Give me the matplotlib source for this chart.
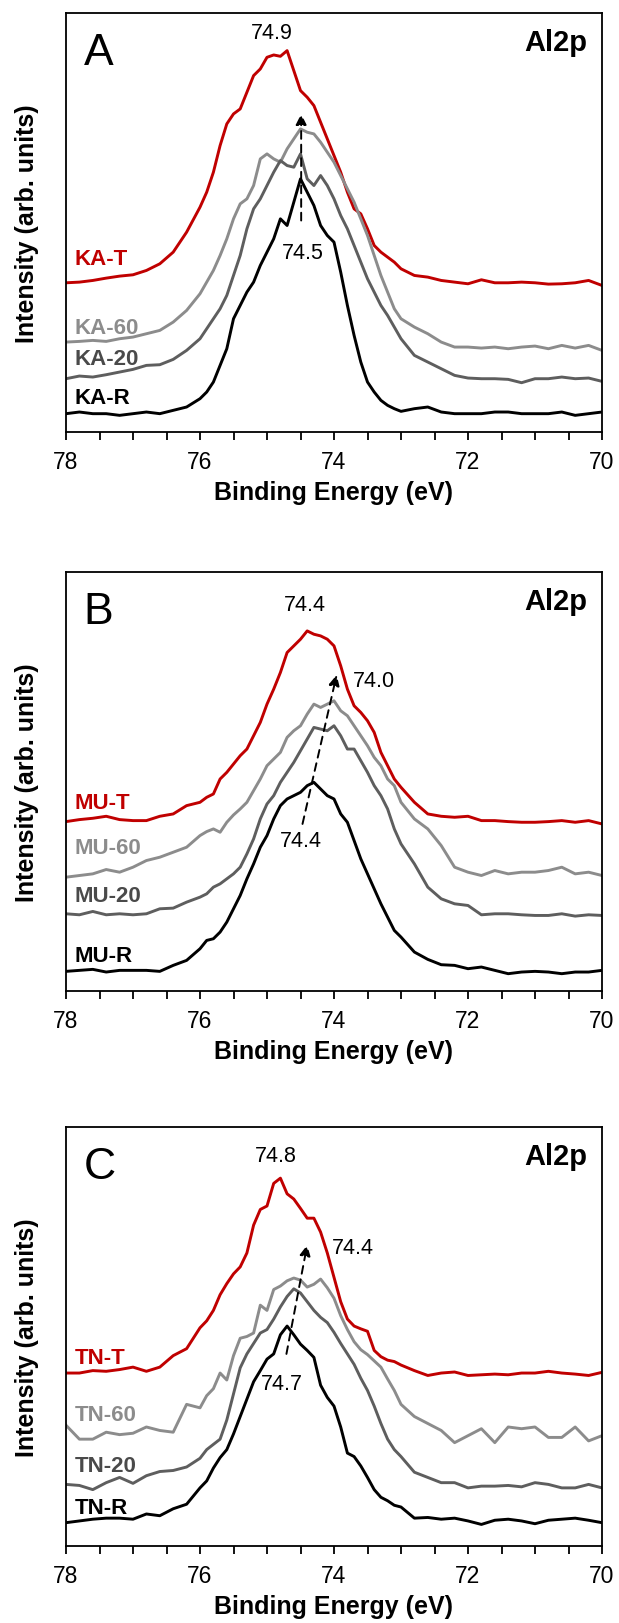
import numpy as np
import matplotlib
matplotlib.use('Agg')
import matplotlib.pyplot as plt
from matplotlib.ticker import MultipleLocator
import matplotlib.transforms as mtransforms

plt.rcParams['font.family'] = ['Liberation Sans', 'DejaVu Sans']

# binding energy grid (eV): coarse on the tails, finer over the peak
energies = np.concatenate([np.round(np.arange(78.0, 76.1, -0.2), 1),
                           np.round(np.arange(76.0, 72.95, -0.1), 1),
                           np.round(np.arange(72.8, 69.95, -0.2), 1)])

# panel A - KA samples (arb. units)
ka_t = [448, 450, 455, 462, 468, 472, 485, 505, 540, 600,
        675, 720, 780, 860, 925, 955, 970, 1020, 1070, 1090, 1125, 1132, 1128, 1145, 1085, 1025,
        1005, 980, 930, 880, 830, 780, 720, 670, 655, 610, 560, 540, 525, 510, 490,
        470, 465, 455, 450, 445, 457, 448, 448, 450, 448, 444, 445, 448, 455, 440]
ka_60 = [270, 272, 275, 272, 280, 285, 295, 305, 330, 365,
         415, 450, 485, 530, 580, 640, 685, 700, 740, 820, 835, 820, 810, 850, 880, 910,
         900, 895, 870, 840, 810, 770, 730, 690, 640, 590, 530, 470, 420, 370, 340,
         315, 295, 270, 255, 255, 252, 255, 250, 255, 258, 250, 260, 252, 260, 245]
ka_20 = [160, 168, 165, 172, 180, 188, 200, 202, 218, 245,
         280, 310, 340, 370, 410, 470, 530, 610, 670, 700, 740, 780, 815, 800, 795, 835,
         760, 740, 770, 740, 700, 650, 610, 560, 510, 460, 420, 380, 350, 315, 280,
         230, 210, 190, 170, 162, 160, 160, 158, 148, 160, 160, 165, 160, 162, 152]
ka_r = [55, 60, 55, 55, 50, 55, 60, 55, 65, 75,
        100, 120, 150, 200, 250, 340, 380, 420, 450, 500, 540, 580, 640, 620, 690, 760,
        720, 680, 620, 590, 570, 480, 380, 290, 210, 150, 120, 95, 80, 70, 62,
        70, 75, 60, 55, 55, 55, 60, 60, 55, 55, 55, 60, 50, 55, 60]

# panel B - MU samples
mu_t = [509, 515, 519, 525, 515, 512, 512, 525, 532, 557,
        567, 582, 592, 637, 657, 682, 707, 727, 767, 807, 862, 907, 957, 1017, 1037, 1057,
        1082, 1072, 1067, 1057, 1037, 977, 907, 857, 837, 812, 777, 717, 677, 637, 612,
        567, 532, 525, 522, 525, 512, 512, 509, 507, 507, 509, 512, 507, 512, 502]
mu_60 = [342, 347, 352, 365, 357, 372, 392, 402, 417, 432,
         467, 479, 487, 477, 507, 529, 547, 567, 602, 637, 677, 697, 717, 762, 782, 797,
         832, 862, 852, 862, 872, 842, 827, 797, 767, 737, 702, 677, 637, 617, 567,
         517, 487, 437, 372, 357, 347, 362, 352, 357, 357, 362, 372, 352, 357, 347]
mu_20 = [232, 229, 239, 229, 232, 229, 232, 247, 249, 267,
         282, 292, 312, 322, 337, 352, 372, 412, 457, 517, 562, 587, 627, 657, 687, 722,
         757, 792, 787, 782, 797, 767, 727, 727, 692, 657, 617, 587, 547, 487, 442,
         382, 312, 277, 262, 257, 229, 232, 232, 229, 227, 227, 232, 225, 229, 227]
mu_r = [59, 62, 65, 57, 62, 62, 62, 59, 77, 92,
        127, 152, 157, 177, 207, 247, 287, 337, 382, 432, 467, 517, 557, 577, 587, 597,
        617, 627, 607, 587, 577, 532, 507, 452, 397, 352, 307, 262, 222, 182, 162,
        117, 95, 79, 77, 67, 72, 62, 52, 57, 59, 57, 52, 57, 57, 62]

# panel C - TN samples
tn_t = [497, 497, 504, 502, 507, 514, 502, 514, 547, 567,
        627, 647, 677, 722, 754, 782, 802, 842, 922, 967, 977, 1042, 1057, 1012, 997, 970,
        942, 942, 902, 842, 772, 702, 652, 632, 624, 617, 562, 544, 534, 530, 520,
        504, 490, 497, 500, 490, 492, 494, 492, 497, 497, 502, 497, 494, 490, 499]
tn_60 = [347, 307, 307, 327, 320, 324, 342, 332, 327, 407,
         397, 432, 452, 497, 477, 547, 597, 602, 612, 692, 677, 737, 747, 762, 770, 764,
         744, 752, 767, 742, 712, 662, 622, 587, 564, 550, 532, 514, 480, 447, 407,
         372, 352, 332, 297, 317, 337, 297, 342, 337, 342, 312, 312, 342, 302, 317]
tn_20 = [177, 174, 162, 182, 197, 180, 202, 214, 217, 227,
         252, 277, 292, 307, 362, 437, 512, 552, 582, 612, 622, 652, 687, 717, 739, 727,
         702, 677, 657, 642, 614, 582, 552, 522, 482, 447, 402, 352, 307, 277, 257,
         212, 197, 182, 182, 167, 172, 172, 174, 170, 182, 177, 167, 167, 177, 167]
tn_r = [67, 72, 77, 80, 80, 77, 92, 87, 107, 120,
        167, 187, 224, 254, 277, 322, 372, 422, 472, 504, 537, 552, 607, 632, 607, 580,
        562, 542, 462, 427, 402, 342, 267, 257, 230, 197, 162, 140, 130, 117, 112,
        80, 82, 77, 80, 72, 62, 74, 77, 72, 64, 74, 77, 80, 74, 67]

suffixes = ['T', '60', '20', 'R']
colors = ['#c00000', '#8c8c8c', '#5e5e5e', '#000000']
label_colors = ['#c00000', '#8c8c8c', '#4a4a4a', '#000000']

panels = [
    dict(letter='A', prefix='KA', curves=[ka_t, ka_60, ka_20, ka_r], ymax=1258,
         label_y=[520, 315, 220, 105],
         peak_top=('74.9', 74.93, 1200), peak_bot=('74.5', 74.46, 540), peak_mid=None,
         arrow=((74.49, 635), (74.49, 955))),
    dict(letter='B', prefix='MU', curves=[mu_t, mu_60, mu_20, mu_r], ymax=1259,
         label_y=[567, 432, 287, 107],
         peak_top=('74.4', 74.43, 1162), peak_bot=('74.4', 74.49, 452), peak_mid=('74.0', 73.4, 932),
         arrow=((74.47, 502), (73.96, 950))),
    dict(letter='C', prefix='TN', curves=[tn_t, tn_60, tn_20, tn_r], ymax=1204,
         label_y=[542, 377, 232, 112],
         peak_top=('74.8', 74.87, 1122), peak_bot=('74.7', 74.78, 467), peak_mid=('74.4', 73.72, 857),
         arrow=((74.71, 552), (74.40, 865))),
]

fig = plt.figure(figsize=(6.19, 16.24), dpi=100)
W, H = 619, 1624
tops = [14, 573, 1128]
ax_h = 419

for p, top in zip(panels, tops):
    ax = fig.add_axes([66 / W, (H - top - ax_h) / H, 536 / W, ax_h / H])
    for vals, c in zip(p['curves'], colors):
        ax.plot(energies, vals, color=c, lw=2.1, solid_joinstyle='round')
    ax.set_xlim(78, 70)
    ax.set_ylim(0, p['ymax'])
    ax.xaxis.set_major_locator(MultipleLocator(2))
    ax.xaxis.set_minor_locator(MultipleLocator(0.5))
    ax.tick_params(axis='x', which='both', direction='out', length=6, width=1.3,
                   labelsize=16.5, pad=7, top=False)
    ax.set_yticks([])
    for s in ax.spines.values():
        s.set_linewidth(1.3)
    ax.set_xlabel('Binding Energy (eV)', fontsize=18, fontweight='bold', labelpad=5)
    ax.set_ylabel('Intensity (arb. units)', fontsize=18, fontweight='bold')
    ax.yaxis.set_label_coords(-0.05, 0.5)

    trans = mtransforms.blended_transform_factory(ax.transAxes, ax.transData)
    for suf, ly, lc in zip(suffixes, p['label_y'], label_colors):
        ax.text(0.016, ly, f"{p['prefix']}-{suf}", transform=trans, color=lc,
                fontsize=16, fontweight='bold', va='center', ha='left')

    ax.text(0.033, 0.905, p['letter'], transform=ax.transAxes, fontsize=32,
            va='center', ha='left')
    ax.text(0.972, 0.93, 'Al2p', transform=ax.transAxes, fontsize=21,
            fontweight='bold', va='center', ha='right')

    for item in (p['peak_top'], p['peak_bot'], p['peak_mid']):
        if item is None:
            continue
        txt, xe, yi = item
        ax.text(xe, yi, txt, fontsize=15.5, ha='center', va='center')

    (x0, y0), (x1, y1) = p['arrow']
    ax.annotate('', xy=(x1, y1), xytext=(x0, y0),
                arrowprops=dict(arrowstyle='-|>', linestyle=(0, (4, 3)), color='black',
                                lw=1.4, mutation_scale=16, shrinkA=0, shrinkB=0))

fig.savefig('out.png', dpi=100)
